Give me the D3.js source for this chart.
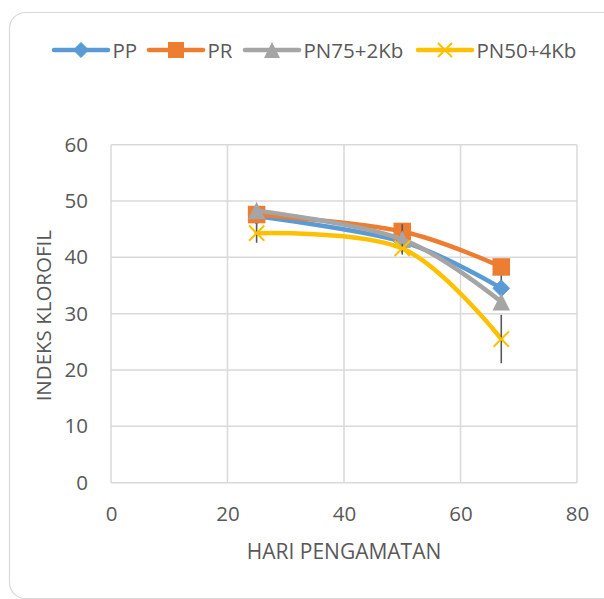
<!DOCTYPE html>
<html>
<head>
<meta charset="utf-8">
<script src="https://cdn.jsdelivr.net/npm/d3@7"></script>
<style>
  html, body { margin: 0; padding: 0; background: #fff; }
  svg { display: block; }
  text { font-family: "Open Sans", sans-serif; fill: #595959; }
</style>
</head>
<body>
<script>
// ---- data ----
const days = [25, 50, 67];
const seriesNames = ["PP", "PR", "PN75+2Kb", "PN50+4Kb"];
const ppValues   = [47.3, 42.8, 34.5];
const prValues   = [47.6, 44.6, 38.3];
const pn75Values = [48.3, 43.2, 32.1];
const pn50Values = [44.3, 41.6, 25.5];
const ppErr   = [0.6, 0.6, 3.0];
const prErr   = [0.6, 1.0, 0.8];
const pn75Err = [0.8, 2.7, 1.0];
const pn50Err = [1.7, 0.8, 4.3];
const xTicks = [0, 20, 40, 60, 80];
const yTicks = [0, 10, 20, 30, 40, 50, 60];
const xTitle = "HARI PENGAMATAN";
const yTitle = "INDEKS KLOROFIL";

const colors = ["#5B9BD5", "#ED7D31", "#A5A5A5", "#FFC000"];
const markers = ["diamond", "square", "triangle", "x"];
const values = [ppValues, prValues, pn75Values, pn50Values];
const errs = [ppErr, prErr, pn75Err, pn50Err];

const W = 604, H = 599;
const svg = d3.select("body").append("svg").attr("width", W).attr("height", H);

// card
svg.append("rect").attr("x", 9.5).attr("y", 12.5).attr("width", 610).attr("height", 586)
  .attr("rx", 16).attr("ry", 16).attr("fill", "#fff").attr("stroke", "#d9d9d9").attr("stroke-width", 1.2);

const x = d3.scaleLinear().domain([0, 80]).range([111, 577]);
const y = d3.scaleLinear().domain([0, 60]).range([482.7, 144.7]);

// gridlines
const grid = svg.append("g");
grid.selectAll("line.h").data(yTicks).join("line")
  .attr("x1", x(0)).attr("x2", x(80)).attr("y1", d => y(d)).attr("y2", d => y(d))
  .attr("stroke", "#d9d9d9").attr("stroke-width", 1.5);
grid.selectAll("line.v").data(xTicks).join("line")
  .attr("y1", y(0)).attr("y2", y(60)).attr("x1", d => x(d)).attr("x2", d => x(d))
  .attr("stroke", "#d9d9d9").attr("stroke-width", 1.5);

// axes (labels only)
const yAxis = d3.axisLeft(y).tickValues(yTicks).tickSize(0).tickPadding(23);
const gy = svg.append("g").attr("transform", `translate(${x(0)},0)`).call(yAxis);
gy.select(".domain").remove();
gy.selectAll("text").style("font-size", "20.5px").attr("fill", "#595959").style("font-family", "'Open Sans', sans-serif");

const xAxis = d3.axisBottom(x).tickValues(xTicks).tickSize(0).tickPadding(24);
const gx = svg.append("g").attr("transform", `translate(0,${y(0)})`).call(xAxis);
gx.select(".domain").remove();
gx.selectAll("text").style("font-size", "20.5px").attr("fill", "#595959").style("font-family", "'Open Sans', sans-serif");

// titles
svg.append("text").attr("x", (x(0) + x(80)) / 2).attr("y", 559).attr("text-anchor", "middle")
  .style("font-size", "21px").text(xTitle);
svg.append("text").attr("transform", `translate(51,${(y(0) + y(60)) / 2 + 2}) rotate(-90)`)
  .attr("text-anchor", "middle").style("font-size", "20.5px").text(yTitle);

// marker drawing
function drawMarker(g, type, color, cx, cy, s) {
  if (type === "diamond") {
    const r = s * 0.52;
    g.append("path").attr("d", `M${cx},${cy - r}L${cx + r},${cy}L${cx},${cy + r}L${cx - r},${cy}Z`)
      .attr("fill", color).attr("stroke", color).attr("stroke-width", 1);
  } else if (type === "square") {
    const r = s * 0.5;
    g.append("rect").attr("x", cx - r).attr("y", cy - r).attr("width", 2 * r).attr("height", 2 * r)
      .attr("fill", color);
  } else if (type === "triangle") {
    const r = s * 0.5;
    g.append("path").attr("d", `M${cx},${cy - r}L${cx + r},${cy + r}L${cx - r},${cy + r}Z`)
      .attr("fill", color);
  } else {
    const r = s * 0.45;
    g.append("path").attr("d", `M${cx - r},${cy - r}L${cx + r},${cy + r}M${cx - r},${cy + r}L${cx + r},${cy - r}`)
      .attr("stroke", color).attr("stroke-width", 2).attr("fill", "none");
  }
}

const line = d3.line().x(d => x(d[0])).y(d => y(d[1])).curve(d3.curveCardinal.tension(0));
const sizes = { diamond: 16, square: 17.5, triangle: 17.5, x: 17 };

values.forEach((vals, i) => {
  const pts = days.map((d, j) => [d, vals[j]]);
  const g = svg.append("g");
  g.append("path").attr("d", line(pts)).attr("fill", "none").attr("stroke", colors[i])
    .attr("stroke-width", 4.5).attr("stroke-linecap", "round");
  g.selectAll("line.err").data(pts).join("line")
    .attr("x1", d => x(d[0])).attr("x2", d => x(d[0]))
    .attr("y1", (d, j) => y(d[1] + errs[i][j])).attr("y2", (d, j) => y(d[1] - errs[i][j]))
    .attr("stroke", "#595959").attr("stroke-width", 1.6);
  pts.forEach(p => drawMarker(g, markers[i], colors[i], x(p[0]), y(p[1]), sizes[markers[i]]));
});

// legend
const legendX = [54, 149, 245, 418];
const legendY = 50;
seriesNames.forEach((name, i) => {
  const g = svg.append("g");
  const x0 = legendX[i];
  g.append("line").attr("x1", x0).attr("x2", x0 + 54).attr("y1", legendY).attr("y2", legendY)
    .attr("stroke", colors[i]).attr("stroke-width", 4.5).attr("stroke-linecap", "round");
  drawMarker(g, markers[i], colors[i], x0 + 27, legendY, sizes[markers[i]] - 1.5);
  g.append("text").attr("x", x0 + 58.5).attr("y", legendY + 7.5).style("font-size", "20.5px").text(name);
});
</script>
</body>
</html>
